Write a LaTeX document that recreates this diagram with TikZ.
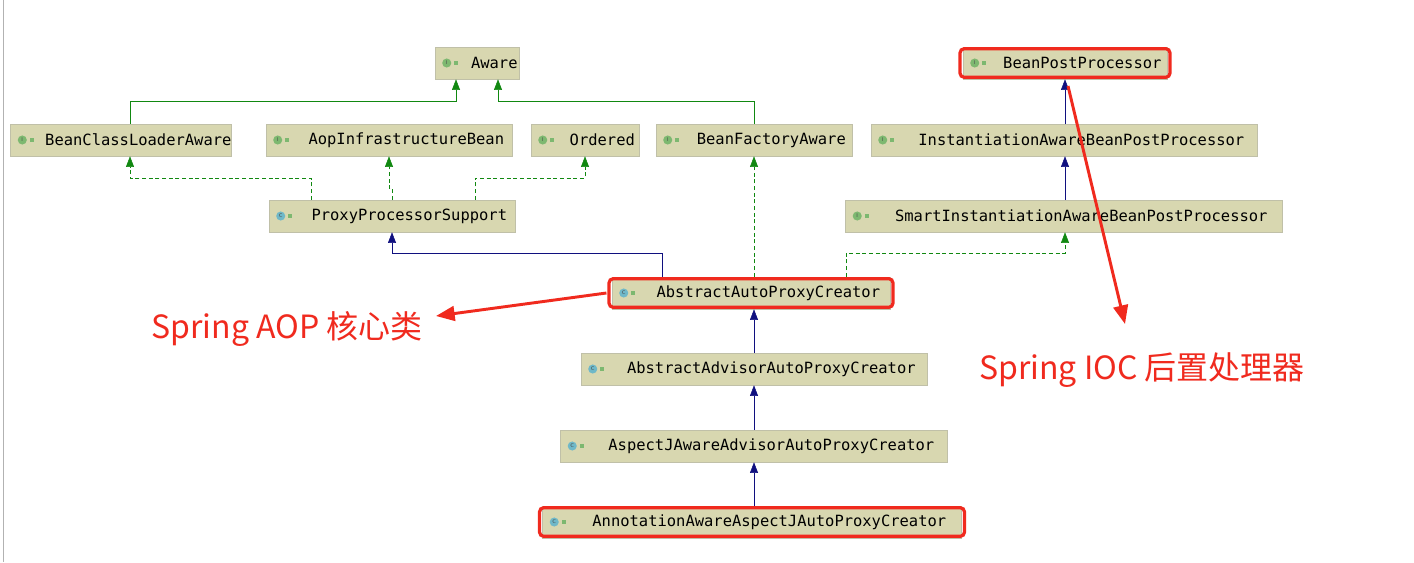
\documentclass[tikz,border=0pt]{standalone}
\usepackage{fontspec}
\setmonofont{DejaVu Sans Mono}
\newfontfamily\cjk{Noto Sans CJK SC}
\usetikzlibrary{arrows.meta}
\definecolor{boxfill}{HTML}{D8D7B0}
\definecolor{boxline}{HTML}{C0C0A8}
\definecolor{ig}{HTML}{7DB870}
\definecolor{ct}{HTML}{6FB8C8}
\definecolor{eg}{HTML}{118811}
\definecolor{nv}{HTML}{10107F}
\definecolor{rd}{HTML}{F02A1E}
\begin{document}
\begin{tikzpicture}[x=0.75pt,y=-0.75pt,
  cls/.style={draw=boxline,fill=boxfill,minimum height=24pt,inner sep=0pt,font=\ttfamily\fontsize{11.6}{13}\selectfont,text=black},
  impl/.style={eg,densely dashed,-{Triangle[width=6pt,length=8pt]}},
  ext/.style={eg,-{Triangle[width=6pt,length=8pt]}},
  sup/.style={nv,-{Triangle[width=6pt,length=8pt]}},
  hl/.style={draw=rd,line width=2.4pt,rounded corners=3pt},
  redarrow/.style={rd,line width=2.2pt,-{Triangle[width=11pt,length=14pt]}},
  lbl/.style={text=rd,font=\cjk\fontsize{24}{28}\selectfont,anchor=center}]
\useasboundingbox (0,0) rectangle (1414,562);
\fill[white] (0,0) rectangle (1414,562);
\draw[gray!60] (3,0) -- (3,562);
\newcommand\bx[7]{%
  \node[cls,minimum width=#4*0.75pt] (#1) at (#2,#3) {\hspace*{26pt}#5\hspace*{0pt}};
  \fill[#7] ([xshift=9pt]#1.west) circle (3.4pt);
  \node[font=\sffamily\fontsize{4}{4}\selectfont,text=black!70] at ([xshift=9pt]#1.west) {#6};
  \fill[ig] ([xshift=14.5pt,yshift=-1.5pt]#1.west) rectangle ++(3pt,3pt);}
\bx{aware}{477}{63}{84}{Aware}{I}{ig}
\bx{bpp}{1065}{63}{204}{BeanPostProcessor}{I}{ig}
\bx{bcla}{121}{140}{220}{BeanClassLoaderAware}{I}{ig}
\bx{aib}{389}{140}{246}{AopInfrastructureBean}{I}{ig}
\bx{ord}{585}{140}{108}{Ordered}{I}{ig}
\bx{bfa}{754}{140}{196}{BeanFactoryAware}{I}{ig}
\bx{iabpp}{1064}{140}{386}{InstantiationAwareBeanPostProcessor}{I}{ig}
\bx{pps}{392}{216}{246}{ProxyProcessorSupport}{C}{ct}
\bx{siabpp}{1064}{216}{437}{SmartInstantiationAwareBeanPostProcessor}{I}{ig}
\bx{aapc}{751}{293}{278}{AbstractAutoProxyCreator}{C}{ct}
\bx{aaapc}{754}{369}{346}{AbstractAdvisorAutoProxyCreator}{C}{ct}
\bx{ajaapc}{754}{446}{387}{AspectJAwareAdvisorAutoProxyCreator}{C}{ct}
\bx{aaajapc}{752}{522}{419}{AnnotationAwareAspectJAutoProxyCreator}{C}{ct}
% inheritance
\draw[ext] (bcla.north -| 130,0) -- (130,101) -- (456,101) -- (aware.south -| 456,0);
\draw[ext] (bfa.north) -- (754,101) -- (498,101) -- (aware.south -| 498,0);
\draw[sup] (iabpp.north -| 1065,0) -- (bpp.south -| 1065,0);
\draw[sup] (siabpp.north -| 1065,0) -- (iabpp.south -| 1065,0);
\draw[impl] (pps.north -| 311,0) -- (311,178) -- (130,178) -- (bcla.south -| 130,0);
\draw[impl] (pps.north -| 392,0) -- (392,188) -- (389,188) -- (aib.south -| 389,0);
\draw[impl] (pps.north -| 475,0) -- (475,178) -- (585,178) -- (ord.south);
\draw[sup] (aapc.north -| 662,0) -- (662,253) -- (392,253) -- (pps.south -| 392,0);
\draw[impl] (aapc.north -| 754,0) -- (bfa.south);
\draw[impl] (aapc.north -| 846,0) -- (846,253) -- (1065,253) -- (siabpp.south -| 1065,0);
\draw[sup] (aaapc.north) -- (aapc.south -| 754,0);
\draw[sup] (ajaapc.north) -- (aaapc.south);
\draw[sup] (aaajapc.north -| 754,0) -- (ajaapc.south);
% highlights
\draw[hl] ([shift={(-2pt,1.5pt)}]aapc.south west) rectangle ([shift={(2pt,-1.5pt)}]aapc.north east);
\draw[hl] ([shift={(-2pt,1.5pt)}]bpp.south west) rectangle ([shift={(2pt,-1.5pt)}]bpp.north east);
\draw[hl] ([shift={(-2pt,1.5pt)}]aaajapc.south west) rectangle ([shift={(2pt,-1.5pt)}]aaajapc.north east);
% labels
\node[lbl] (aop) at (287,329) {Spring AOP 核心类};
\node[lbl] (ioc) at (1142,370) {Spring IOC 后置处理器};
\coordinate (aoptip) at (436,316);
\coordinate (ioctip) at (1125,324);
\draw[redarrow] ([xshift=-4pt]aapc.west) -- (aoptip);
\draw[redarrow] (1068,86) -- (ioctip);
\end{tikzpicture}
\end{document}
